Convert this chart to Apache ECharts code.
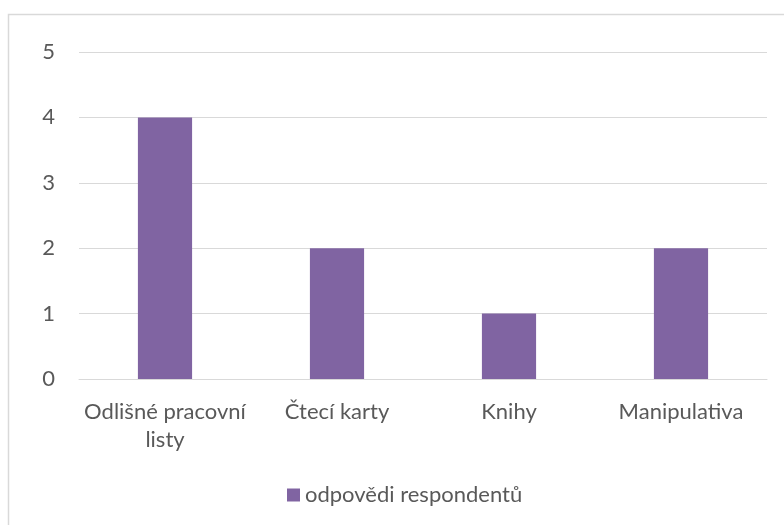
<!DOCTYPE html>
<html>
<head>
<meta charset="utf-8">
<script src="https://cdn.jsdelivr.net/npm/echarts@6/dist/echarts.min.js"></script>
<style>
  html, body { margin: 0; padding: 0; background: #fff; }
  #chart { width: 784px; height: 525px; }
</style>
</head>
<body>
<div id="chart"></div>
<script>
// Categories, values and axis ticks
const categories = ['Odlišné pracovní\nlisty', 'Čtecí karty', 'Knihy', 'Manipulativa'];
const seriesName = 'odpovědi respondentů';
const values = [4, 2, 1, 2];
const yTicks = [0, 1, 2, 3, 4, 5];

const textColor = '#595959';
const font = 'Lato, "Open Sans", sans-serif';
const fontSize = 22;

const chart = echarts.init(document.getElementById('chart'), null, { renderer: 'canvas' });
chart.setOption({
  animation: false,
  backgroundColor: '#fff',
  graphic: [{
    type: 'rect',
    shape: { x: 8.5, y: 14.5, width: 800, height: 600 },
    style: { fill: 'none', stroke: '#d9d9d9', lineWidth: 1.5 },
    silent: true
  }],
  grid: { left: 79, right: 17, top: 52, bottom: 146 },
  legend: {
    top: 479,
    left: 282,
    itemWidth: 13,
    itemHeight: 13,
    itemGap: 6,
    icon: 'rect',
    textStyle: { color: textColor, fontSize: fontSize, fontFamily: font },
    data: [seriesName]
  },
  xAxis: {
    type: 'category',
    data: categories,
    axisLine: { lineStyle: { color: '#d9d9d9', width: 1 } },
    axisTick: { show: false },
    axisLabel: {
      color: textColor, fontSize: fontSize, fontFamily: font,
      margin: 19, lineHeight: 28, interval: 0
    }
  },
  yAxis: {
    type: 'value',
    min: yTicks[0],
    max: yTicks[yTicks.length - 1],
    interval: 1,
    axisLine: { show: false },
    axisTick: { show: false },
    splitLine: { lineStyle: { color: '#d9d9d9', width: 1 } },
    axisLabel: { color: textColor, fontSize: fontSize, fontFamily: font, margin: 24 }
  },
  series: [{
    name: seriesName,
    type: 'bar',
    data: values,
    barWidth: '31.5%',
    itemStyle: { color: '#8064A2' }
  }]
});
</script>
</body>
</html>
